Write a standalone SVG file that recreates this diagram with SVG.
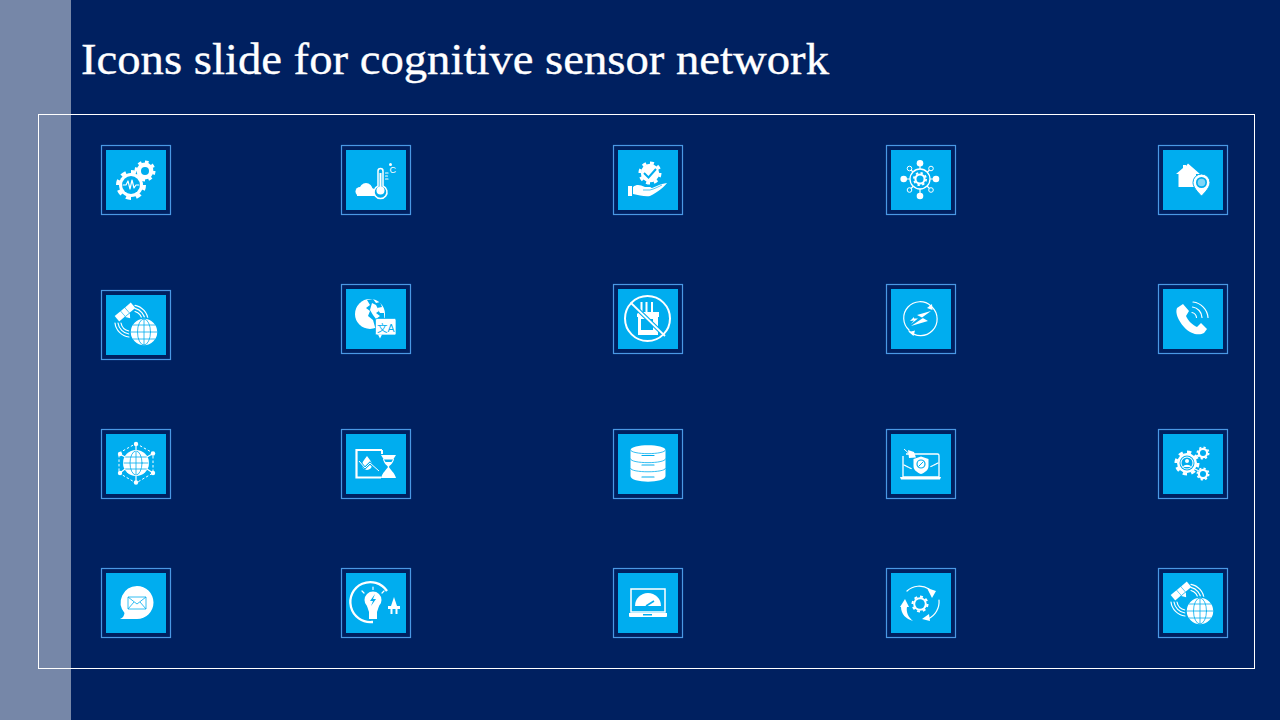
<svg xmlns="http://www.w3.org/2000/svg" width="1280" height="720" viewBox="0 0 1280 720">
<style>
.o{fill:none;stroke:#4A98E4;stroke-width:1.2}
.i{fill:#00ADEF}
.w{fill:#fff}
.b{fill:#00ADEF}
.sw{fill:none;stroke:#fff;stroke-width:1.2;stroke-linecap:round;stroke-linejoin:round}
.sb{fill:none;stroke:#00ADEF;stroke-width:.8;stroke-linecap:round;stroke-linejoin:round}
.t{font-family:"Liberation Sans","Noto Sans CJK SC",sans-serif}
</style>
<defs>
<g id="tile"><rect class="o" x="-4.500" y="-4.500" width="69" height="69"/><rect class="i" width="60" height="60"/></g>
<g id="gear"><circle class="w" r="8"/><circle r="8.750" fill="none" stroke="#fff" stroke-width="2.500" pathLength="16" stroke-dasharray="1 1"/></g>
<g id="sat">
<g class="sw" stroke-width="1.200"><path d="M29 10.300A16 16 0 0 1 42 25M29 13.400A13 13 0 0 1 39 25M29 16.500A10 10 0 0 1 36 25M9 28A16 16 0 0 0 23 42M12 28A13 13 0 0 0 23 39M15 28A10 10 0 0 0 23 36"/></g>
<circle class="w" cx="38" cy="37" r="14" stroke="#00ADEF" stroke-width="1.500"/>
<g class="sb"><ellipse cx="38" cy="37" rx="6.500" ry="13"/><path d="M38 24V50M25 37H51M27 30H49M27 44H49"/></g>
<g transform="rotate(-40 19 17)"><rect class="w" x="16.500" y="13.500" width="5" height="7"/><rect class="w" x="8.500" y="13.500" width="7.500" height="7"/><rect class="w" x="22" y="13.500" width="7.500" height="7"/><path class="w" d="M16 21H22L19 25Z"/></g>
</g>
</defs>
<rect width="1280" height="720" fill="#002060"/>
<rect id="sidebar" width="71" height="720" fill="#7687A8"/>
<text id="title" x="81" y="74" font-family="'Liberation Serif','DejaVu Serif',serif" font-size="45" fill="#fff" stroke="#fff" stroke-width=".35" textLength="748" lengthAdjust="spacingAndGlyphs">Icons slide for cognitive sensor network</text>
<rect id="frame" x="38.500" y="114.500" width="1216" height="554" fill="none" stroke="#fff" stroke-width="1"/>

<g id="n1" transform="translate(106 150)"><use href="#tile"/>
<use href="#gear" transform="translate(39 21) scale(1.050)"/><circle class="b" cx="39" cy="21" r="4"/>
<use href="#gear" transform="translate(25 35) scale(1.500)"/><circle class="b" cx="25" cy="35" r="9"/>
<path d="M17 35H20L22 31L24 39L26 30L28 38L30 35H33" class="sw" stroke-width=".9"/></g>

<g id="n2" transform="translate(346 150)"><use href="#tile"/>
<g class="w"><circle cx="20" cy="39.500" r="6.500"/><circle cx="14" cy="41.500" r="4.500"/><circle cx="25" cy="42" r="4"/><rect x="11" y="41" width="18" height="5"/></g>
<path d="M32 36V21A2.500 2.500 0 0 1 37 21V36A6.500 6.500 0 1 1 32 36Z" class="b" stroke="#fff" stroke-width="1.500"/>
<circle class="w" cx="34.500" cy="40.500" r="4"/><path d="M34.500 23V40" stroke="#fff" stroke-width="2"/>
<path class="sw" d="M39.500 23H42M39.500 26H41.500M39.500 29H42"/><circle class="w" cx="44.500" cy="14.500" r="1.500"/>
<text class="t" x="43.500" y="23" font-size="9" fill="#fff">C</text></g>

<g id="n3" transform="translate(618 150)"><use href="#tile"/>
<use href="#gear" transform="translate(32 23) scale(1.150)"/><path d="M26 23L30.500 27.500L38 19" fill="none" stroke="#00ADEF" stroke-width="2"/>
<path class="w" d="M10 36H14V46H10ZM15 37C19 34 22 35 27 37H32C34 37 34 40 32 40H26C30 40 36 37 44 34L49 33C47 36 40 42 32 46C27 47 21 45 15 44Z"/>
<path d="M25 40H32C36 39 40 37 44 35" fill="none" stroke="#00ADEF" stroke-width=".7"/></g>

<g id="n4" transform="translate(891 150)"><use href="#tile"/>
<path class="sw" d="M29 13V46M13 29H45M18.500 18.500L40 40M40 18.500L18.500 40"/>
<circle class="b" cx="29" cy="29" r="10"/><circle cx="29" cy="29" r="10" fill="none" stroke="#fff" stroke-width="1.300"/>
<use href="#gear" transform="translate(29 29) scale(.700)"/><circle class="b" cx="29" cy="29" r="3.500"/>
<circle class="w" cx="29" cy="13.300" r="3.300"/><circle class="w" cx="29" cy="46" r="3.300"/><circle class="w" cx="12.700" cy="29" r="3.300"/><circle class="w" cx="45" cy="29" r="3.300"/>
<g fill="#00ADEF" stroke="#fff" stroke-width="1"><circle cx="18.500" cy="18.500" r="2.300"/><circle cx="40" cy="18.500" r="2.300"/><circle cx="18.500" cy="40" r="2.300"/><circle cx="40" cy="40" r="2.300"/></g></g>

<g id="n5" transform="translate(1163 150)"><use href="#tile"/>
<path class="w" d="M13 24L20 18V15H23V16L25 13.500L37 24H33V37H15.500V24Z"/>
<path class="w" d="M38.500 24A8.500 8.500 0 0 1 47 32.500C47 37 42.500 42 38.500 46C34.500 42 30 37 30 32.500A8.500 8.500 0 0 1 38.500 24Z" stroke="#00ADEF" stroke-width="1"/>
<circle class="b" cx="38.500" cy="32.500" r="5.500"/><circle cx="38.500" cy="32.500" r="3.800" fill="#fff" fill-opacity=".5"/></g>

<g id="n6" transform="translate(106 295)"><use href="#tile"/><use href="#sat"/></g>

<g id="n7" transform="translate(346 289)"><use href="#tile"/>
<circle class="w" cx="24" cy="25" r="15"/>
<path class="b" d="M21 11L27 10L30 14L34 13L36 18L31 19L34 24L38 24L38 33L33 38L29 38L27 31L22 27L24 22L20 19L24 16Z"/>
<path class="w" d="M26 14L30 16L33 22L30 24L34 27L30 30L27 26L24 21Z"/>
<rect class="w" x="29.500" y="29.500" width="20.500" height="16.500" rx="1.500" stroke="#00ADEF" stroke-width=".7"/><path class="w" d="M32 45.500L36 45.500L34 49.500Z"/>
<text class="t" x="31" y="42.500" font-size="10.500" fill="#00ADEF">文A</text></g>

<g id="n8" transform="translate(618 289)"><use href="#tile"/>
<path d="M23.500 13V24M28.500 13V24M34 13V24" stroke="#fff" stroke-width="2"/>
<path class="w" d="M21 23H41V28H40V46H20V28H19V25Z"/><rect class="b" x="23" y="30" width="12" height="11"/>
<path d="M12 13L47 47" stroke="#00ADEF" stroke-width="4"/><path d="M12.500 13.500L47 47" stroke="#fff" stroke-width="1.800"/>
<circle cx="29.500" cy="29.500" r="22.500" fill="none" stroke="#fff" stroke-width="2"/></g>

<g id="n9" transform="translate(891 289)"><use href="#tile"/>
<path class="sw" d="M40 17A15.500 15.500 0 0 0 18 41M18 42A15.500 15.500 0 0 0 41 18" stroke-width="1.100"/>
<path class="w" d="M41 15L41.500 21L36 19ZM18 43L24 41.500L22.500 47Z"/>
<path class="w" d="M40 22L26 26L32 29L20 37L37 32L31 28.500Z"/><path class="w" d="M23 28L19 32L23 31.500L20 35L27 29.500H23Z"/></g>

<g id="n10" transform="translate(1163 289)"><use href="#tile"/>
<path class="w" d="M14 19L20 15L26 22L23 27C25 32 30 36 34 38L38 34L44 40L41 44C36 47 27 45 21 38C15 31 12 24 14 19Z"/>
<path class="sw" d="M29 23.500A6 6 0 0 1 33.500 28.500M29.500 18A11 11 0 0 1 39 28.500M30 13A17 17 0 0 1 45 28.500" stroke-width="1.800"/></g>

<g id="n11" transform="translate(106 434)"><use href="#tile"/>
<circle class="w" cx="30" cy="29" r="13"/>
<g class="sb"><ellipse cx="30" cy="29" rx="6" ry="12"/><path d="M30 17V41M18 29H42M19 23H41M19 35H41"/></g>
<path d="M30 9.500L47 19V39L30 49L13 39V19Z" fill="none" stroke="#fff" stroke-width="1" stroke-dasharray="2.500 2"/>
<g class="w"><circle cx="30" cy="10" r="2.200"/><circle cx="47" cy="19.500" r="2.200"/><circle cx="47" cy="39" r="2.200"/><circle cx="30" cy="48.500" r="2.200"/><circle cx="14" cy="39" r="2.200"/><circle cx="14" cy="20" r="2.200"/></g>
<path class="sw" d="M30 10V17M47 19.500L41 23M47 39L41 35M30 48V41M14 39L19 35M14 20L19 23"/></g>

<g id="n12" transform="translate(346 434)"><use href="#tile"/>
<path d="M36 16H10.500V43.500H35" fill="none" stroke="#fff" stroke-width="2.200"/>
<path d="M36 16V20" stroke="#fff" stroke-width="2"/>
<path class="w" d="M21 22C24 26 26 28 26 31A5 5 0 0 1 16 31C16 28 18 26 21 22Z"/>
<path d="M13 27L19 34L24 29L33 38" fill="none" stroke="#00ADEF" stroke-width="2.500"/><path d="M13 27L19 34L24 29L33 37" fill="none" stroke="#fff" stroke-width="1"/>
<path class="w" d="M35 21H50L47.500 25H37.500ZM37 25H48C47 30 43.500 31 43 33C43.500 35 49 39 50 44H35C36 39 41 35 42 33C41 31 38 30 37 25Z"/>
<path class="b" d="M38 25.500H47L45.500 28H39.500Z"/></g>

<g id="n13" transform="translate(618 434)"><use href="#tile"/>
<path class="w" d="M12.500 16C12.500 9.500 47.500 9.500 47.500 16V42C47.500 49.500 12.500 49.500 12.500 42Z"/>
<g class="sb" stroke-width="1"><path d="M12.500 16C12.500 21 47.500 21 47.500 16"/><path d="M12.500 25C12.500 30 47.500 30 47.500 25"/><path d="M12.500 34.500C12.500 39 47.500 39 47.500 34.500"/><path d="M24 21.500H36M24 31H36M24 43H36" stroke-width="1.200"/></g></g>

<g id="n14" transform="translate(891 434)"><use href="#tile"/>
<path d="M15 20H46.500Q48 20 48 21.500V43H12V22" fill="none" stroke="#fff" stroke-width="1.300"/>
<path class="w" d="M9 43H50L49 45.500H10Z"/>
<path class="sw" d="M13 31L21 35M47 29L39 33" stroke-width="1" stroke-dasharray="2 1"/>
<path class="w" d="M30 22.500L37.500 25V32C37.500 36 34 38.500 30 40C26 38.500 22.500 36 22.500 32V25Z"/>
<circle cx="30" cy="30" r="4" fill="none" stroke="#00ADEF" stroke-width="1.200"/><path d="M27.500 32.500L32.500 27.500" stroke="#00ADEF" stroke-width="1"/>
<path d="M13 15L18 19.500" stroke="#fff" stroke-width="1"/><path class="w" d="M17 16L23 18L25 23.500L18 24Z"/></g>

<g id="n15" transform="translate(1163 434)"><use href="#tile"/>
<path class="sw" d="M28 25L38 20M28 33L38 38" stroke-width="2"/>
<use href="#gear" transform="translate(24 29) scale(1.250)"/><circle class="b" cx="24" cy="29" r="7.500"/><circle class="w" cx="24" cy="29" r="6.500"/><circle class="b" cx="24" cy="29" r="5.500"/><circle class="w" cx="24" cy="27" r="2"/><path class="w" d="M20 33C21 30 27 30 28 33Z"/>
<use href="#gear" transform="translate(40 19) scale(.650)"/><circle class="b" cx="40" cy="19" r="3"/>
<use href="#gear" transform="translate(40 40) scale(.650)"/><circle class="b" cx="40" cy="40" r="3"/></g>

<g id="n16" transform="translate(106 573)"><use href="#tile"/>
<path class="w" d="M31 13A16.500 16.500 0 0 1 31 46H14C17 45 18 43 18.500 40A16.500 16.500 0 0 1 31 13Z"/>
<path d="M22 24H40V36H22ZM22 24L31 31L40 24M22 36L28 29M40 36L34 29" fill="none" stroke="#00ADEF" stroke-width=".8"/></g>

<g id="n17" transform="translate(346 573)"><use href="#tile"/>
<path d="M41 18A20 20 0 1 0 26 49H27" fill="none" stroke="#fff" stroke-width="2.300"/>
<circle class="w" cx="27" cy="27" r="8.500"/><path class="w" d="M21 33H33L31 39H23Z"/><rect class="w" x="23" y="39" width="8" height="7"/>
<path class="b" d="M29 21L24 28H27L25 33L30 26H27Z"/>
<path class="sw" d="M27 14V16.500M16 18L18 20M38 18L36 20"/>
<path class="w" d="M48 24L51 33H54V36H42V33H45Z"/><path d="M45.500 36V41M50.500 36V41" stroke="#fff" stroke-width="2"/></g>

<g id="n18" transform="translate(618 573)"><use href="#tile"/>
<path d="M13 16H47V39H13Z" fill="none" stroke="#fff" stroke-width="1.500"/>
<path class="w" d="M11 40H49V43C49 44 48 44 47 44H13C12 44 11 44 11 43Z"/><rect class="b" x="25" y="41" width="9" height="1.500"/>
<path class="w" d="M17 33A13 13 0 0 1 43 33Z"/><path d="M28 33L36 28" stroke="#00ADEF" stroke-width="1.500"/></g>

<g id="n19" transform="translate(891 573)"><use href="#tile"/>
<use href="#gear" transform="translate(29 31) scale(.850)"/><circle class="b" cx="29" cy="31" r="4.800"/>
<path class="sw" d="M16 18A18 18 0 0 1 38 16" stroke-width="1.500"/><path class="sw" d="M48 27A19 19 0 0 1 37 46" stroke-width="1.500"/>
<path class="w" d="M36 15L45 18L41 25ZM38 41L39 48L31 46ZM14 26L9 34L18 34ZM10 34C10 41 15 46 22 48C17 44 15 39 16 34Z"/></g>

<g id="n20" transform="translate(1163 573)"><use href="#tile"/><use href="#sat" transform="translate(-1 1)"/></g>
</svg>
